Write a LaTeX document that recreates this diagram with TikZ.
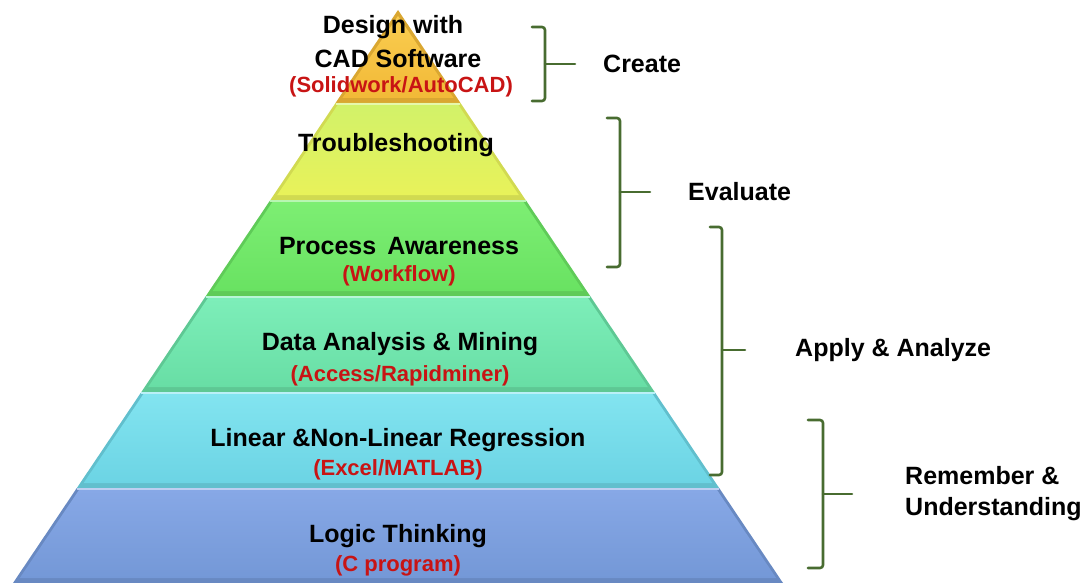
\documentclass[tikz,border=0pt]{standalone}
\usepackage{fontspec}
\setmainfont{Liberation Sans}
\definecolor{orT}{RGB}{250,205,80}
\definecolor{orB}{RGB}{242,185,55}
\definecolor{ylT}{RGB}{210,242,105}
\definecolor{ylB}{RGB}{232,242,90}
\definecolor{grT}{RGB}{125,238,115}
\definecolor{grB}{RGB}{105,226,98}
\definecolor{mnT}{RGB}{125,238,185}
\definecolor{mnB}{RGB}{104,222,165}
\definecolor{cyT}{RGB}{130,228,240}
\definecolor{cyB}{RGB}{108,212,228}
\definecolor{blT}{RGB}{135,168,230}
\definecolor{blB}{RGB}{116,152,215}
\definecolor{brk}{RGB}{72,108,48}
\definecolor{redtxt}{RGB}{200,20,20}
\newcommand{\hw}[1]{0.6719*(#1-10)}
\newcommand{\pyrlayer}[4]{%
  \fill[#4!90!black] ({398-\hw{#1}},#1) -- ({398+\hw{#1}},#1) -- ({398+\hw{#2}},#2) -- ({398-\hw{#2}},#2) -- cycle;
  \shade[top color=#3, bottom color=#4] ({398-\hw{#1+2}+3.5},#1+2) -- ({398+\hw{#1+2}-3.5},#1+2) -- ({398+\hw{#2-5}-3.5},#2-5) -- ({398-\hw{#2-5}+3.5},#2-5) -- cycle;
  \draw[line width=1.6pt, white!45!#3] ({398-\hw{#1}},#1+0.8) -- ({398+\hw{#1}},#1+0.8);
}
\tikzset{
  main/.style={font=\bfseries\fontsize{25}{29}\selectfont, text=black, align=center, inner sep=0pt},
  sub/.style={font=\bfseries\fontsize{22}{26}\selectfont, text=redtxt, align=center, inner sep=0pt},
  lab/.style={font=\bfseries\fontsize{25}{31}\selectfont, text=black, align=left, inner sep=0pt, anchor=west},
  bracket/.style={draw=brk, line width=2.6pt, rounded corners=3pt, line cap=round},
}
\begin{document}
\begin{tikzpicture}[x=1pt,y=-1pt]
\useasboundingbox (0,0) rectangle (1086,583);
% apex
\fill[orB!90!black] (398,10) -- ({398+\hw{103}},103) -- ({398-\hw{103}},103) -- cycle;
\shade[top color=orT, bottom color=orB] (398,16) -- ({398+\hw{98}-3.5},98) -- ({398-\hw{98}+3.5},98) -- cycle;
\pyrlayer{103}{200}{ylT}{ylB}
\pyrlayer{200}{296}{grT}{grB}
\pyrlayer{296}{392}{mnT}{mnB}
\pyrlayer{392}{488}{cyT}{cyB}
\pyrlayer{488}{583}{blT}{blB}
% texts
\node[main] (t1a) at (393,27) {Design with};
\node[main] (t1b) at (398,59) {CAD Software};
\node[sub] (t1c) at (401,87) {(Solidwork/AutoCAD)};
\node[main] (t2) at (396,145) {Troubleshooting};
\node[main] (t3) at (399,246) {Process\, Awareness};
\node[sub] (t3s) at (399,276) {(Workflow)};
\node[main] (t4) at (400,344) {Data Analysis \& Mining};
\node[sub] (t4s) at (400,376) {(Access/Rapidminer)};
\node[main] (t5) at (398,440) {Linear \&Non-Linear Regression};
\node[sub] (t5s) at (398,470) {(Excel/MATLAB)};
\node[main] (t6) at (398,536) {Logic Thinking};
\node[sub] (t6s) at (398,566) {(C program)};
% brackets
\draw[bracket] (532,27) -- (545,27) -- (545,101) -- (532,101);
\coordinate (c1) at (575,64);
\draw[bracket] (545,64) -- (c1);
\node[lab] (l1) at (603,64) {Create};
\draw[bracket] (607,118) -- (620,118) -- (620,267) -- (607,267);
\coordinate (c2) at (650,192);
\draw[bracket] (620,192) -- (c2);
\node[lab] (l2) at (688,192) {Evaluate};
\draw[bracket] (710,227) -- (722,227) -- (722,475) -- (710,475);
\coordinate (c3) at (745,350);
\draw[bracket] (722,350) -- (c3);
\node[lab] (l3) at (795,350) {Apply \& Analyze};
\draw[bracket] (808,420) -- (823,420) -- (823,568) -- (808,568);
\coordinate (c4) at (852,494);
\draw[bracket] (823,494) -- (c4);
\node[lab] (l4) at (905,494) {Remember \&\\Understanding};
\end{tikzpicture}
\end{document}
